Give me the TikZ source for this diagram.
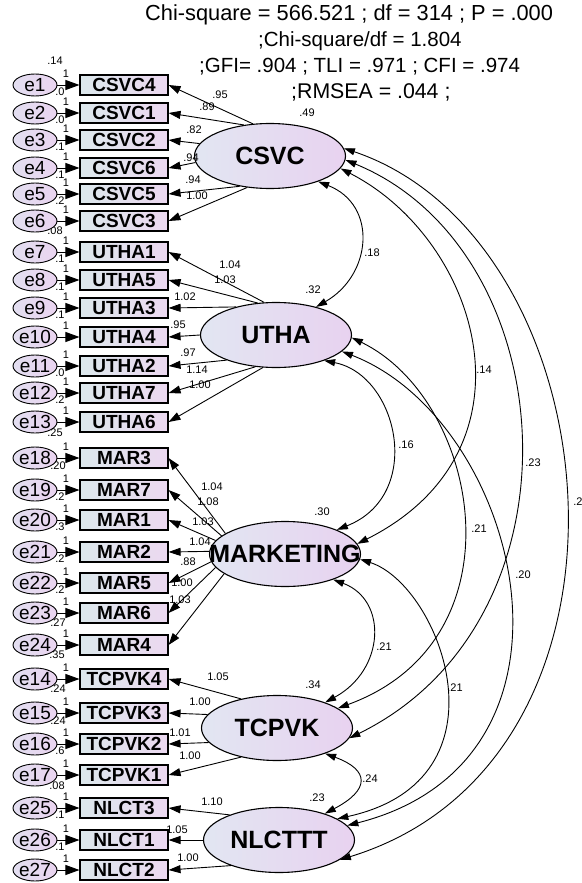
\documentclass[tikz,border=0pt]{standalone}
\usepackage{fontspec}
\setmainfont{Liberation Sans}
\usetikzlibrary{shapes.geometric,arrows.meta}
\definecolor{latL}{RGB}{226,230,242}
\definecolor{latR}{RGB}{232,210,240}
\definecolor{boxL}{RGB}{220,232,236}
\definecolor{boxR}{RGB}{236,216,240}
\definecolor{errL}{RGB}{226,222,240}
\definecolor{errR}{RGB}{234,212,240}
\begin{document}
\begin{tikzpicture}[x=1pt,y=-1pt,
  lat/.style={ellipse,draw,line width=1.1pt,minimum width=151pt,minimum height=65pt,inner sep=0pt,left color=latL,right color=latR},
  lattxt/.style={font=\fontsize{25}{25}\selectfont\bfseries,inner sep=0pt},
  obs/.style={rectangle,draw,line width=1.1pt,minimum width=88pt,minimum height=20pt,inner sep=0pt,left color=boxL,right color=boxR,font=\fontsize{19}{19}\selectfont\bfseries},
  err/.style={ellipse,draw,line width=0.9pt,minimum width=44pt,minimum height=22pt,inner sep=0pt,left color=errL,right color=errR},
  errtxt/.style={font=\fontsize{19}{19}\selectfont,inner sep=0pt},
  num/.style={font=\fontsize{11}{11}\selectfont,inner sep=0pt},
  hdr/.style={font=\fontsize{20.5}{20.5}\selectfont,inner sep=0pt,anchor=west},
  arr/.style={-{Triangle[length=12pt,width=8pt]},line width=0.9pt},
  errarr/.style={-{Triangle[length=14pt,width=10pt]},line width=0.9pt},
  cov/.style={{Triangle[length=11pt,width=7pt]}-{Triangle[length=11pt,width=7pt]},line width=0.9pt}]
\useasboundingbox (0,0) rectangle (581,883);
\fill[white] (0,0) rectangle (581,883);

% header
\node[hdr,font=\fontsize{21.8}{21.8}\selectfont] (h1) at (145,15) {Chi-square = 566.521 ; df = 314 ; P = .000};
\node[hdr] (h2) at (258,41) {;Chi-square/df = 1.804};
\node[hdr] (h3) at (199,67) {;GFI= .904 ; TLI = .971 ; CFI = .974};
\node[hdr,font=\fontsize{21.3}{21.3}\selectfont] (h4) at (291,92) {;RMSEA = .044 ;};

% latent variables
\node[lat] (csvc) at (270,156) {};
\node[lattxt] (csvc-t) at (270,156) {CSVC};
\node[lat] (utha) at (276,335) {};
\node[lattxt] (utha-t) at (276,335) {UTHA};
\node[lat] (mkt) at (285,554) {};
\node[lattxt] (mkt-t) at (285,554) {MARKETING};
\node[lat] (tcpvk) at (277,728) {};
\node[lattxt] (tcpvk-t) at (277,728) {TCPVK};
\node[lat] (nlct) at (279,840) {};
\node[lattxt] (nlct-t) at (279,840) {NLCTTT};

% error variances (partly hidden)
\foreach \nm/\x/\y/\v in {v1/55/61/.14, v1b/60/92/.0, v2/60/120/.0, v3/60/147/.1, v4/60/175/.1,
 v5/60/201/.2, v6/55/231/.08, v7/60/259/.1, v8/60/287/.1, v9/60/315/.1, v11/60/373/.0,
 v12/60/400/.2, v13/55/433/.25, v18/58/466/.20, v19/60/497/.2, v20/60/527/.3, v21/60/559/.2,
 v22/60/590/.2, v23/58/623/.27, v24/57/655/.35, v14/58/689/.24, v15/58/721/.24, v16/60/751/.6,
 v17/57/786/.08, v25/60/815/.1, v26/60/847/.1}
 \node[num] (\nm) at (\x,\y) {\v};

% indicators, errors, loadings
\foreach \n/\t/\e/\y/\lat/\ang in {
 c4/CSVC4/e1/85/csvc/118, c1/CSVC1/e2/113/csvc/130, c2/CSVC2/e3/140/csvc/170,
 c6/CSVC6/e4/168/csvc/185, c5/CSVC5/e5/194/csvc/225, c3/CSVC3/e6/221/csvc/234,
 u1/UTHA1/e7/252/utha/110, u5/UTHA5/e8/280/utha/120, u3/UTHA3/e9/308/utha/145,
 u4/UTHA4/e10/337/utha/180, u2/UTHA2/e11/366/utha/207, u7/UTHA7/e12/393/utha/237,
 u6/UTHA6/e13/422/utha/248,
 m3/MAR3/e18/458/mkt/161, m7/MAR7/e19/490/mkt/164, m1/MAR1/e20/520/mkt/169,
 m2/MAR2/e21/552/mkt/178, m5/MAR5/e22/583/mkt/186, m6/MAR6/e23/613/mkt/191,
 m4/MAR4/e24/645/mkt/198,
 t4/TCPVK4/e14/679/tcpvk/141, t3/TCPVK3/e15/713/tcpvk/169, t2/TCPVK2/e16/744/tcpvk/192,
 t1/TCPVK1/e17/775/tcpvk/219,
 n3/NLCT3/e25/808/nlct/153, n1/NLCT1/e26/840/nlct/180, n2/NLCT2/e27/870/nlct/208}
{
 \node[obs] (\n) at (124,\y) {\t};
 \node[err] (\e) at (35,\y) {};
 \node[errtxt] (\e-t) at (35,\y) {\e};
 \node[num] (\e-one) at (66,\y-11) {1};
 \draw[errarr] (\e) -- (\n);
 \draw[arr] (\lat.\ang) -- (\n.east);
}

% loading estimates
\foreach \nm/\x/\y/\v in {l1/220/95/.95, l2/207/107/.89, l3/194/130/.82, l4/191/158/.94,
 l5/193/180/.94, l6/197/196/1.00,
 l7/230/265/1.04, l8/225/280/1.03, l9/185/297/1.02, l10/178/325/.95, l11/188/353/.97,
 l12/197/370/1.14, l13/200/385/1.00,
 l14/212/487/1.04, l15/208/502/1.08, l16/203/522/1.03, l17/200/542/1.04, l18/188/562/.88,
 l19/182/583/1.00, l20/180/600/1.03,
 l21/218/677/1.05, l22/200/702/1.00, l23/180/733/1.01, l24/190/756/1.00,
 l25/212/802/1.10, l26/177/830/1.05, l27/188/858/1.00}
 \node[num] (\nm) at (\x,\y) {\v};

% latent variances
\node[num] (r1) at (307,113) {.49};
\node[num] (r2) at (313,290) {.32};
\node[num] (r3) at (322,512) {.30};
\node[num] (r4) at (313,685) {.34};
\node[num] (r5) at (317,798) {.23};

% covariances
\draw[cov] (csvc.-28) .. controls (378,205) and (372,275) .. (utha.35);
\draw[cov] (csvc.-10) .. controls (480,240) and (544,450) .. (mkt.8);
\draw[cov] (csvc.-3) .. controls (565,250) and (590,620) .. (tcpvk.-8);
\draw[cov] (csvc.6) .. controls (615,240) and (665,760) .. (nlct.-18);
\draw[cov] (utha.-28) .. controls (398,375) and (425,495) .. (mkt.25);
\draw[cov] (utha.-2) .. controls (480,400) and (525,640) .. (tcpvk.18);
\draw[cov] (utha.-14) .. controls (520,420) and (606,760) .. (nlct.12);
\draw[cov] (mkt.-28) .. controls (388,600) and (385,670) .. (tcpvk.28);
\draw[cov] (mkt.-4) .. controls (440,585) and (515,780) .. (nlct.20);
\draw[cov] (tcpvk.-28) .. controls (370,770) and (370,790) .. (nlct.30);

\node[num] (k1) at (372,253) {.18};
\node[num] (k2) at (484,370) {.14};
\node[num] (k3) at (533,463) {.23};
\node[num] (k4) at (578,502) {.2};
\node[num] (k5) at (406,445) {.16};
\node[num] (k6) at (479,529) {.21};
\node[num] (k7) at (523,575) {.20};
\node[num] (k8) at (384,647) {.21};
\node[num] (k9) at (455,688) {.21};
\node[num] (k10) at (370,779) {.24};
\end{tikzpicture}
\end{document}
